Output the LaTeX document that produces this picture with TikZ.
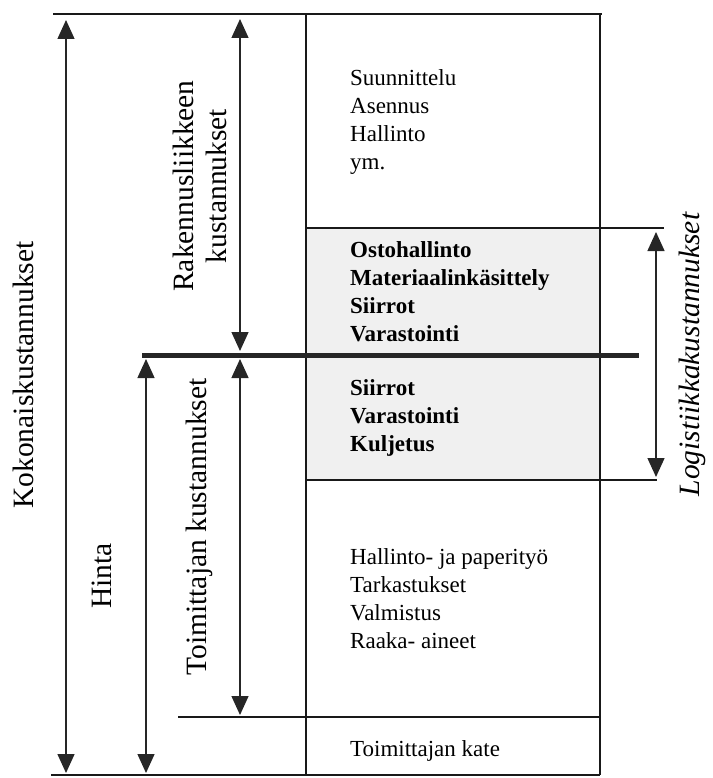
\documentclass[tikz,border=0pt]{standalone}
\usepackage{fontspec}
\setmainfont{Liberation Serif}
\usetikzlibrary{arrows.meta}
\begin{document}
\begin{tikzpicture}[x=1pt,y=-1pt,
  ln/.style={line width=1.8pt, draw=black!90},
  heavyln/.style={line width=5pt, draw=black!85},
  dimarrow/.style={line width=1.4pt, draw=black!85,
    {Triangle[length=19pt,width=17pt]}-{Triangle[length=19pt,width=17pt]}},
  boxtxt/.style={anchor=north west, inner sep=0pt, align=left,
    font=\fontsize{23}{28}\selectfont},
  boldtxt/.style={boxtxt, font=\fontsize{23}{28}\selectfont\bfseries},
  sidelbl/.style={rotate=90, inner sep=0pt, anchor=base,
    font=\fontsize{29.5}{33}\selectfont}
]
\useasboundingbox (0,0) rectangle (712,778);

% coordinates
\coordinate (topL) at (53,14);
\coordinate (topR) at (602,14);
\coordinate (bxTL) at (306,14);
\coordinate (bxTR) at (600,14);
\coordinate (bxBL) at (306,775);
\coordinate (bxBR) at (600,775);
\coordinate (logTL) at (306,228);
\coordinate (logTR) at (664,228);
\coordinate (midL) at (142,355);
\coordinate (midR) at (639,355);
\coordinate (logBL) at (306,480);
\coordinate (logBR) at (657,480);
\coordinate (katL) at (178,717);
\coordinate (katR) at (600,717);
\coordinate (botL) at (51,775);

% shaded logistics band
\fill[black!6] (logTL) rectangle (600,480);

% lines
\draw[ln] (topL) -- (topR);
\draw[ln] (bxTL) -- (bxBL);
\draw[ln] (bxTR) -- (bxBR);
\draw[ln] (logTL) -- (logTR);
\draw[heavyln] (midL) -- (midR);
\draw[ln] (logBL) -- (logBR);
\draw[ln] (katL) -- (katR);
\draw[ln] (botL) -- (bxBR);

% arrow ends
\coordinate (kokT) at (66,20);
\coordinate (kokB) at (66,773);
\coordinate (rakT) at (240,19);
\coordinate (rakB) at (240,351);
\coordinate (hinT) at (146,359);
\coordinate (hinB) at (146,773);
\coordinate (toiT) at (240,359);
\coordinate (toiB) at (240,715);
\coordinate (logT) at (656,232);
\coordinate (logB) at (656,477);

\draw[dimarrow] (kokT) -- (kokB);
\draw[dimarrow] (rakT) -- (rakB);
\draw[dimarrow] (hinT) -- (hinB);
\draw[dimarrow] (toiT) -- (toiB);
\draw[dimarrow] (logT) -- (logB);

% side labels
\node[sidelbl] (lkok) at (33,375) {Kokonaiskustannukset};
\node[sidelbl, anchor=center, align=center] (lrak) at (200,186) {Rakennusliikkeen\\kustannukset};
\node[sidelbl] (lhin) at (111,576) {Hinta};
\node[sidelbl] (ltoi) at (206,527) {Toimittajan kustannukset};
\node[sidelbl, font=\fontsize{29.5}{33}\selectfont\itshape] (llog) at (699,354.5) {Logistiikkakustannukset};

% box texts
\node[boxtxt] (tsuu) at (350,65.4) {\strut Suunnittelu\\Asennus\\Hallinto\\ym.};
\node[boldtxt] (tost) at (350,238) {\strut Ostohallinto\\Materiaalinkäsittely\\Siirrot\\Varastointi};
\node[boldtxt] (tsii) at (350,376) {\strut Siirrot\\Varastointi\\Kuljetus};
\node[boxtxt] (thal) at (350,544.5) {\strut Hallinto- ja paperityö\\Tarkastukset\\Valmistus\\Raaka- aineet};
\node[boxtxt] (tkat) at (350,736.5) {\strut Toimittajan kate};
\end{tikzpicture}
\end{document}
